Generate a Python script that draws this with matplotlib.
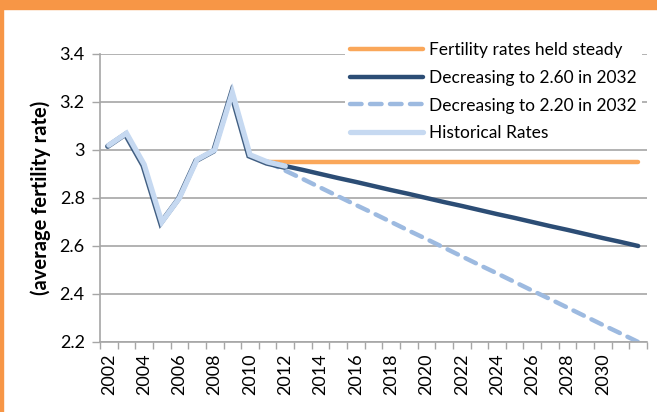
import matplotlib.pyplot as plt
import matplotlib.patheffects as pe
from matplotlib.patches import Rectangle

plt.rcParams['font.family'] = ['Lato', 'DejaVu Sans']

# data
hist_years = [2002, 2003, 2004, 2005, 2006, 2007, 2008, 2009, 2010, 2011, 2012]
hist_rate = [3.02, 3.07, 2.94, 2.70, 2.80, 2.96, 3.00, 3.24, 2.98, 2.95, 2.933]

proj_years = list(range(2011, 2033))
steady = [2.95] * 22
dec_260 = [2.950, 2.933, 2.917, 2.900, 2.883, 2.867, 2.850, 2.833, 2.817, 2.800, 2.783,
           2.767, 2.750, 2.733, 2.717, 2.700, 2.683, 2.667, 2.650, 2.633, 2.617, 2.600]
dec_220 = [2.950, 2.914, 2.879, 2.843, 2.807, 2.771, 2.736, 2.700, 2.664, 2.629, 2.593,
           2.557, 2.521, 2.486, 2.450, 2.414, 2.379, 2.343, 2.307, 2.271, 2.236, 2.200]

label_years = list(range(2002, 2031, 2))
y_ticks = [2.2, 2.4, 2.6, 2.8, 3.0, 3.2, 3.4]
y_labels = ['2.2', '2.4', '2.6', '2.8', '3', '3.2', '3.4']

W, H = 657, 412
fig = plt.figure(figsize=(W / 100, H / 100), dpi=100)
ax = fig.add_axes([100 / W, 1 - 342 / H, 547 / W, 288 / H])

# orange frame
fig.patches.append(Rectangle((0, 1 - 9 / H), 1, 9 / H, transform=fig.transFigure,
                             color='#F79646', zorder=0))
fig.patches.append(Rectangle((0, 0), 2.5 / W, 1, transform=fig.transFigure,
                             color='#F79646', zorder=0))

grey = '#A6A6A6'
ax.plot(proj_years, steady, color='#FAA75A', lw=3.2, solid_capstyle='round',
        label='Fertility rates held steady', zorder=3)
ax.plot(proj_years, dec_260, color='#2C4D75', lw=3.2, solid_capstyle='round',
        label='Decreasing to 2.60 in 2032', zorder=4)
ax.plot(proj_years, dec_220, color='#9DBAE0', lw=3.2, dash_capstyle='round',
        linestyle=(0, (2.6, 1.9)), label='Decreasing to 2.20 in 2032', zorder=3)
ax.plot(hist_years, hist_rate, color='#C6D9F1', lw=3.8, solid_capstyle='round',
        solid_joinstyle='miter', label='Historical Rates', zorder=5,
        path_effects=[pe.SimpleLineShadow(offset=(-0.8, -0.8), shadow_color='#2C4D75', alpha=0.9),
                      pe.Normal()])

ax.set_xlim(2001.5, 2032.5)
ax.set_ylim(2.2, 3.4)
ax.set_yticks(y_ticks)
ax.set_yticklabels(y_labels)
ax.set_xticks(label_years)
ax.set_xticklabels([str(y) for y in label_years], rotation=90)
ax.set_xticks([2001.5 + k for k in range(32)], minor=True)
ax.tick_params(axis='x', which='major', length=0, pad=8, labelsize=13)
ax.tick_params(axis='x', which='minor', length=5, color=grey, width=1)
ax.tick_params(axis='y', length=6, color=grey, width=1, labelsize=13, pad=5)
ax.grid(axis='y', color=grey, lw=1.2)
ax.set_axisbelow(True)
for s in ['top', 'right']:
    ax.spines[s].set_visible(False)
for s in ['left', 'bottom']:
    ax.spines[s].set_color(grey)
    ax.spines[s].set_linewidth(1.2)
ax.spines['bottom'].set_zorder(6)

ax.set_ylabel('(average fertility rate)', fontsize=14.5, fontweight='bold', labelpad=6)

leg = ax.legend(loc='upper left', bbox_to_anchor=(336 / W, 1 - 28 / H),
                bbox_transform=fig.transFigure, frameon=True, fancybox=False,
                edgecolor='none', facecolor='white', framealpha=1,
                fontsize=12.5, handlelength=4.2, handletextpad=0.35,
                labelspacing=0.68, borderpad=0.3)
leg.set_zorder(7)
for h in leg.get_lines():
    h.set_path_effects([])

fig.savefig('out.png', dpi=100)
